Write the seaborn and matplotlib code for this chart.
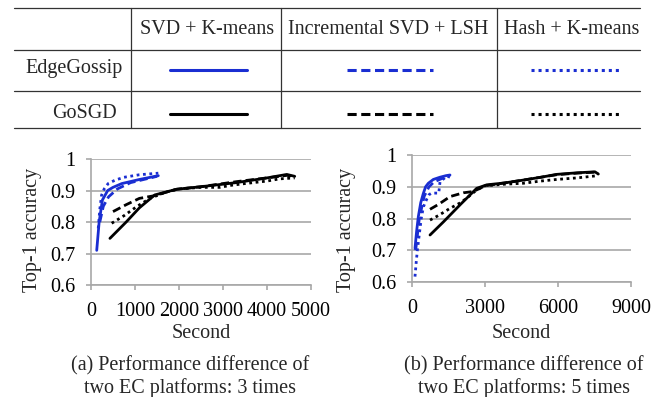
import matplotlib
matplotlib.use('Agg')
import matplotlib.pyplot as plt
import seaborn as sns

sns.set_theme(style='white')
plt.rcParams['font.family'] = ['Liberation Serif', 'DejaVu Serif']

systems = ['EdgeGossip', 'GoSGD']
methods = ['SVD + K-means', 'Incremental SVD + LSH', 'Hash + K-means']

# (a) performance difference of two EC platforms: 3 times
a_edge_svd_x = [130, 185, 260, 380, 500, 700, 1100, 1530]
a_edge_svd_y = [0.71, 0.80, 0.87, 0.90, 0.91, 0.922, 0.935, 0.947]
a_edge_isvd_x = [200, 280, 400, 600, 900, 1200, 1500]
a_edge_isvd_y = [0.80, 0.85, 0.88, 0.905, 0.925, 0.935, 0.945]
a_edge_hash_x = [165, 200, 240, 300, 390, 550, 750, 1100, 1530]
a_edge_hash_y = [0.78, 0.84, 0.885, 0.905, 0.922, 0.933, 0.942, 0.95, 0.955]
a_gos_svd_x = [430, 800, 1100, 1450, 1950, 2500, 3300, 4000, 4450, 4630]
a_gos_svd_y = [0.748, 0.80, 0.845, 0.886, 0.904, 0.912, 0.925, 0.94, 0.951, 0.945]
a_gos_isvd_x = [500, 800, 1100, 1420, 1950, 2500, 3300, 4000, 4450, 4630]
a_gos_isvd_y = [0.833, 0.855, 0.875, 0.883, 0.904, 0.912, 0.928, 0.94, 0.948, 0.945]
a_gos_hash_x = [470, 750, 1040, 1340, 1700, 2000, 2500, 2930, 3160, 3500, 4000, 4290, 4630]
a_gos_hash_y = [0.796, 0.82, 0.849, 0.875, 0.895, 0.905, 0.91, 0.91, 0.916, 0.922, 0.93, 0.937, 0.94]

# (b) performance difference of two EC platforms: 5 times
b_edge_svd_x = [123, 190, 260, 360, 466, 560, 671, 877, 1150, 1400, 1562]
b_edge_svd_y = [0.706, 0.76, 0.806, 0.85, 0.879, 0.90, 0.911, 0.923, 0.93, 0.935, 0.937]
b_edge_isvd_x = [150, 300, 500, 700, 900, 1200, 1500]
b_edge_isvd_y = [0.70, 0.80, 0.87, 0.90, 0.915, 0.925, 0.935]
b_edge_hash_x = [123, 170, 220, 300, 380, 470, 600, 700, 800, 1000, 1100, 1150, 1300, 1430, 1560]
b_edge_hash_y = [0.617, 0.66, 0.70, 0.75, 0.80, 0.837, 0.86, 0.875, 0.88, 0.88, 0.88, 0.915, 0.925, 0.934, 0.93]
b_gos_svd_x = [740, 1300, 2000, 2658, 3069, 3800, 4575, 5300, 5946, 6800, 7520, 7658]
b_gos_svd_y = [0.748, 0.79, 0.845, 0.895, 0.906, 0.912, 0.921, 0.93, 0.939, 0.944, 0.947, 0.94]
b_gos_isvd_x = [740, 1100, 1562, 2110, 2521, 3000, 3800, 4575, 5300, 5946, 6800, 7520, 7658]
b_gos_isvd_y = [0.829, 0.845, 0.869, 0.881, 0.885, 0.903, 0.912, 0.921, 0.93, 0.938, 0.943, 0.946, 0.94]
b_gos_hash_x = [740, 1100, 1562, 2000, 2247, 2658, 3000, 3800, 4575, 5300, 5946, 6800, 7520, 7658]
b_gos_hash_y = [0.795, 0.81, 0.832, 0.85, 0.864, 0.89, 0.903, 0.908, 0.911, 0.918, 0.923, 0.928, 0.934, 0.935]

a_xticks = [0, 1000, 2000, 3000, 4000, 5000]
b_xticks = [0, 3000, 6000, 9000]
y_ticks = [0.6, 0.7, 0.8, 0.9, 1.0]
y_tick_labels = ['0.6', '0.7', '0.8', '0.9', '1']
captions = ['(a) Performance difference of\ntwo EC platforms: 3 times',
            '(b) Performance difference of\ntwo EC platforms: 5 times']

panel_a = {
    ('EdgeGossip', 'SVD + K-means'): (a_edge_svd_x, a_edge_svd_y),
    ('EdgeGossip', 'Incremental SVD + LSH'): (a_edge_isvd_x, a_edge_isvd_y),
    ('EdgeGossip', 'Hash + K-means'): (a_edge_hash_x, a_edge_hash_y),
    ('GoSGD', 'SVD + K-means'): (a_gos_svd_x, a_gos_svd_y),
    ('GoSGD', 'Incremental SVD + LSH'): (a_gos_isvd_x, a_gos_isvd_y),
    ('GoSGD', 'Hash + K-means'): (a_gos_hash_x, a_gos_hash_y),
}
panel_b = {
    ('EdgeGossip', 'SVD + K-means'): (b_edge_svd_x, b_edge_svd_y),
    ('EdgeGossip', 'Incremental SVD + LSH'): (b_edge_isvd_x, b_edge_isvd_y),
    ('EdgeGossip', 'Hash + K-means'): (b_edge_hash_x, b_edge_hash_y),
    ('GoSGD', 'SVD + K-means'): (b_gos_svd_x, b_gos_svd_y),
    ('GoSGD', 'Incremental SVD + LSH'): (b_gos_isvd_x, b_gos_isvd_y),
    ('GoSGD', 'Hash + K-means'): (b_gos_hash_x, b_gos_hash_y),
}

# styles
colors = {'EdgeGossip': '#1a2ed2', 'GoSGD': '#000000'}
linestyles = {'SVD + K-means': '-',
              'Incremental SVD + LSH': (0, (3, 1.5)),
              'Hash + K-means': (0, (1, 1.3))}
grid_gray = '#a8a8a8'
FS = 14.5

W, H = 660, 397
fig = plt.figure(figsize=(W / 100, H / 100), dpi=100)


def px_axes(x0, y0, x1, y1):
    return fig.add_axes([x0 / W, 1 - y1 / H, (x1 - x0) / W, (y1 - y0) / H])


# overlay in pixel coordinates for the table legend and captions
ov = fig.add_axes([0, 0, 1, 1])
ov.set_xlim(0, W)
ov.set_ylim(H, 0)
ov.axis('off')

# table rules
for yy in [7.5, 50, 91, 128]:
    ov.plot([14, 640], [yy, yy], color='#333333', lw=0.9)
for xx in [131, 281, 497]:
    ov.plot([xx, xx], [7.5, 128], color='#333333', lw=0.9)

head_x = [207, 388, 572]
for m, hx in zip(methods, head_x):
    ov.text(hx, 29, m, ha='center', va='center', fontsize=FS)
row_y = [69, 113]
row_x = [74, 84]
key_spans = [(170, 247), (347, 433), (531, 620)]
for s, ry, rx in zip(systems, row_y, row_x):
    ov.text(rx, ry, s, ha='center', va='center', fontsize=FS)
    for m, (k0, k1) in zip(methods, key_spans):
        sns.lineplot(x=[k0, k1], y=[ry + 1, ry + 1], ax=ov, color=colors[s],
                     linestyle=linestyles[m], linewidth=2.2, sort=False, estimator=None)

cap_x = [190, 524]
for cx, cap in zip(cap_x, captions):
    ov.text(cx, 377, cap, ha='center', va='center', fontsize=FS, linespacing=1.15)

ax_a = px_axes(91, 159, 311, 285)
ax_b = px_axes(412, 155, 631, 282)

for ax, data, xmax, xticks in [(ax_a, panel_a, 5000, a_xticks), (ax_b, panel_b, 9000, b_xticks)]:
    for s in systems:
        for m in methods:
            xs, ys = data[(s, m)]
            sns.lineplot(x=xs, y=ys, ax=ax, color=colors[s], linestyle=linestyles[m],
                         linewidth=2.0, sort=False, estimator=None)
    ax.set_xlim(0, xmax)
    ax.set_ylim(0.6, 1.0)
    ax.set_xticks(xticks)
    ax.set_yticks(y_ticks)
    ax.set_yticklabels(y_tick_labels)
    ax.grid(axis='y', color=grid_gray, lw=1.2)
    ax.grid(axis='x', visible=False)
    ax.set_axisbelow(True)
    ax.patch.set_alpha(0)
    for sp in ['top', 'right']:
        ax.spines[sp].set_visible(False)
    for sp in ['left', 'bottom']:
        ax.spines[sp].set_color(grid_gray)
        ax.spines[sp].set_linewidth(1.2)
    ax.tick_params(axis='both', bottom=True, left=True, length=3.5, width=1.2,
                   color=grid_gray, labelsize=FS, labelcolor='black', direction='out')
    ax.tick_params(axis='x', pad=9)
    ax.tick_params(axis='y', pad=8)
    ax.set_xlabel('Second', fontsize=FS)
    ax.set_ylabel('Top-1 accuracy', fontsize=FS)

ax_a.yaxis.set_label_coords(-0.225, 0.44)
ax_b.yaxis.set_label_coords(-0.255, 0.41)
ax_a.xaxis.set_label_coords(0.5, -0.31)
ax_b.xaxis.set_label_coords(0.5, -0.33)

fig.savefig('out.png', dpi=100)
